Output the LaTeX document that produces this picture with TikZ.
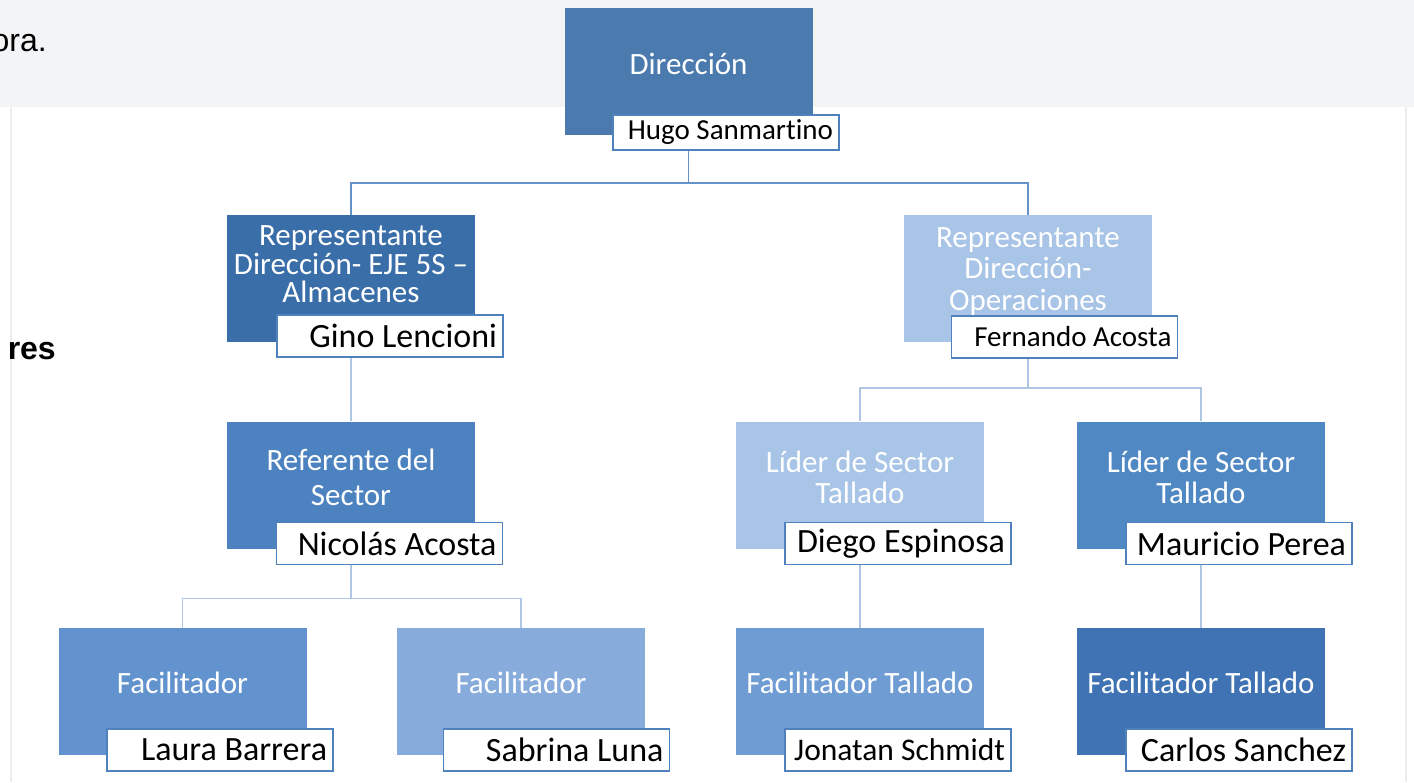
\documentclass[tikz,border=0pt]{standalone}
\usepackage{fontspec}
\setmainfont{Carlito}[Ligatures=NoCommon]
\newfontfamily\arialfont{Liberation Sans}
\usetikzlibrary{backgrounds}

\definecolor{bandgray}{HTML}{F3F4F6}
\definecolor{pagerule}{HTML}{ECEDEF}
\definecolor{namerule}{HTML}{4F81BD}
\definecolor{linktop}{HTML}{6592C9}
\definecolor{linklow}{HTML}{AFC7E5}
\definecolor{cDir}{HTML}{4A7AAE}
\definecolor{cRepA}{HTML}{3A6EA8}
\definecolor{cRepB}{HTML}{A8C4E6}
\definecolor{cRef}{HTML}{4C82C0}
\definecolor{cFacA}{HTML}{6293CE}
\definecolor{cFacB}{HTML}{87ACDB}
\definecolor{cLidA}{HTML}{A8C5E7}
\definecolor{cLidB}{HTML}{5088C4}
\definecolor{cFtA}{HTML}{6E9CD3}
\definecolor{cFtB}{HTML}{3F73B3}

\tikzset{
  post/.style={rectangle, minimum width=248pt, minimum height=127pt, inner sep=0pt},
  posttext/.style={text=white, align=center, inner sep=0pt, font=\fontsize{31}{31}\selectfont},
  holder/.style={rectangle, draw=namerule, line width=1.5pt, fill=white,
    minimum height=42pt, text width=214pt, inner xsep=6pt, inner ysep=0pt,
    align=flush right, font=\fontsize{34}{34}\selectfont},
  link/.style={draw=linklow, line width=1.5pt},
  linkhead/.style={draw=linktop, line width=1.5pt},
}

\begin{document}
\begin{tikzpicture}[x=1pt,y=-1pt]
  \useasboundingbox (0,0) rectangle (1414,782);
  % page behind the chart
  \fill[bandgray] (0,0) rectangle (1414,107);
  \draw[pagerule, line width=1.5pt] (11,107) -- (11,782);
  \draw[pagerule, line width=1.5pt] (1406,107) -- (1406,782);
  \node[anchor=base east, inner sep=0pt, font=\arialfont\fontsize{32}{32}\selectfont] (intro) at (47,51) {ora.};
  \node[anchor=base east, inner sep=0pt, font=\arialfont\bfseries\fontsize{32}{32}\selectfont] (head) at (56,359) {res};

  % top
  \node[post, fill=cDir] (dir) at (688.5,71.5) {};
  \node[posttext] (dirt) at ([yshift=8]dir.center) {Dirección};
  \node[holder, minimum height=35pt, font=\fontsize{29}{29}\selectfont] (hugo) at (726,132.5) {Hugo Sanmartino};

  % second row
  \node[post, fill=cRepA] (rep1) at (351,278.5) {};
  \node[posttext, font=\fontsize{31}{28.5}\selectfont] (rep1t) at ([yshift=14]rep1.center) {Representante\\Dirección- EJE 5S –\\Almacenes};
  \node[holder] (gino) at (390,336) {Gino Lencioni};

  \node[post, fill=cRepB] (rep2) at (1028,278.5) {};
  \node[posttext, font=\fontsize{31}{31.5}\selectfont] (rep2t) at ([yshift=7]rep2.center) {Representante\\Dirección-\\Operaciones};
  \node[holder, font=\fontsize{29}{29}\selectfont] (fernando) at (1064.5,337) {Fernando Acosta};

  % third row
  \node[post, fill=cRef] (ref) at (351,485) {};
  \node[posttext, font=\fontsize{31}{35}\selectfont] (reft) at ([yshift=8]ref.center) {Referente del\\Sector};
  \node[holder] (nicolas) at (389.5,543.5) {Nicolás Acosta};

  \node[post, fill=cLidA] (lid1) at (860,485) {};
  \node[posttext] (lid1t) at ([yshift=8]lid1.center) {Líder de Sector\\Tallado};
  \node[holder] (diego) at (898,543.5) {Diego Espinosa};

  \node[post, fill=cLidB] (lid2) at (1201,485) {};
  \node[posttext] (lid2t) at ([yshift=8]lid2.center) {Líder de Sector\\Tallado};
  \node[holder] (mauricio) at (1239,543.5) {Mauricio Perea};

  % bottom row
  \node[post, fill=cFacA] (fac1) at (182.5,691.5) {};
  \node[posttext] (fac1t) at ([yshift=9]fac1.center) {Facilitador};
  \node[holder] (laura) at (220,750) {Laura Barrera};

  \node[post, fill=cFacB] (fac2) at (521,691.5) {};
  \node[posttext] (fac2t) at ([yshift=9]fac2.center) {Facilitador};
  \node[holder] (sabrina) at (556.5,750) {Sabrina Luna};

  \node[post, fill=cFtA] (fact1) at (860,691.5) {};
  \node[posttext] (fact1t) at ([yshift=9]fact1.center) {Facilitador Tallado};
  \node[holder, font=\fontsize{31.5}{31.5}\selectfont] (jonatan) at (898,750) {Jonatan Schmidt};

  \node[post, fill=cFtB] (fact2) at (1201,691.5) {};
  \node[posttext] (fact2t) at ([yshift=9]fact2.center) {Facilitador Tallado};
  \node[holder] (carlos) at (1239,750) {Carlos Sanchez};

  % connectors
  \begin{scope}[on background layer]
    \draw[linkhead] (dir.south) -- ++(0,48) coordinate (bus0) -| (rep1.north);
    \draw[linkhead] (bus0) -| (rep2.north);
    \draw[link] (rep1.south) -- (ref.north);
    \draw[link] (rep2.south) -- ++(0,46) coordinate (bus1) -| (lid1.north);
    \draw[link] (bus1) -| (lid2.north);
    \draw[link] (ref.south) -- ++(0,50) coordinate (bus2) -| (fac1.north);
    \draw[link] (bus2) -| (fac2.north);
    \draw[link] (lid1.south) -- (fact1.north);
    \draw[link] (lid2.south) -- (fact2.north);
  \end{scope}
\end{tikzpicture}
\end{document}
